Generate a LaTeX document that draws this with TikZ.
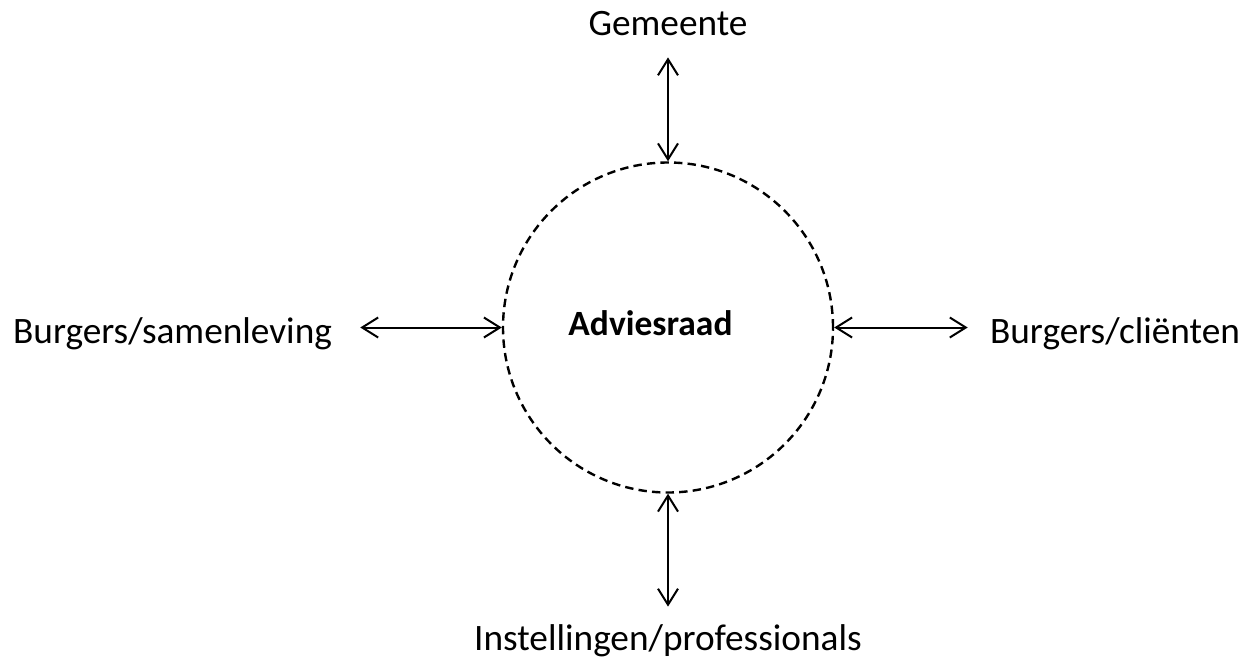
\documentclass[tikz,border=0pt]{standalone}
\usepackage{fontspec}
\setmainfont{Carlito}
\usepackage{tikz}
\usetikzlibrary{arrows.meta}

\begin{document}
\begin{tikzpicture}[
  x=0.5pt,y=0.5pt,
  lbl/.style={font=\fontsize{18.65}{22}\selectfont,inner sep=11pt,text height=16pt,text depth=0pt},
  ring/.style={draw,circle,dash pattern=on 4.2pt off 2.6pt,line width=1.2pt,minimum size=165pt,inner sep=0pt},
  arr/.style={{Straight Barb[length=8pt,width=10pt]}-{Straight Barb[length=8pt,width=10pt]},line width=1pt}
]
\useasboundingbox (0,0) rectangle (1253,661);
\node[ring] (raad) at (668,333.5) {};
\node[font=\fontsize{17.75}{21}\selectfont\bfseries,anchor=base] (raadtxt) at (650.5,326) {Adviesraad};
\node[lbl] (gem) at (668,642) {Gemeente};
\node[lbl,inner xsep=14pt] (sam) at (172.5,333.5) {Burgers/samenleving};
\node[lbl] (cli) at (1115,333.5) {Burgers/cliënten};
\node[lbl,inner ysep=5.5pt] (inst) at (668,27) {Instellingen/professionals};
\draw[arr] (gem) -- (raad);
\draw[arr] (sam) -- (raad);
\draw[arr] (cli) -- (raad);
\draw[arr] (inst) -- (raad);
\end{tikzpicture}
\end{document}
